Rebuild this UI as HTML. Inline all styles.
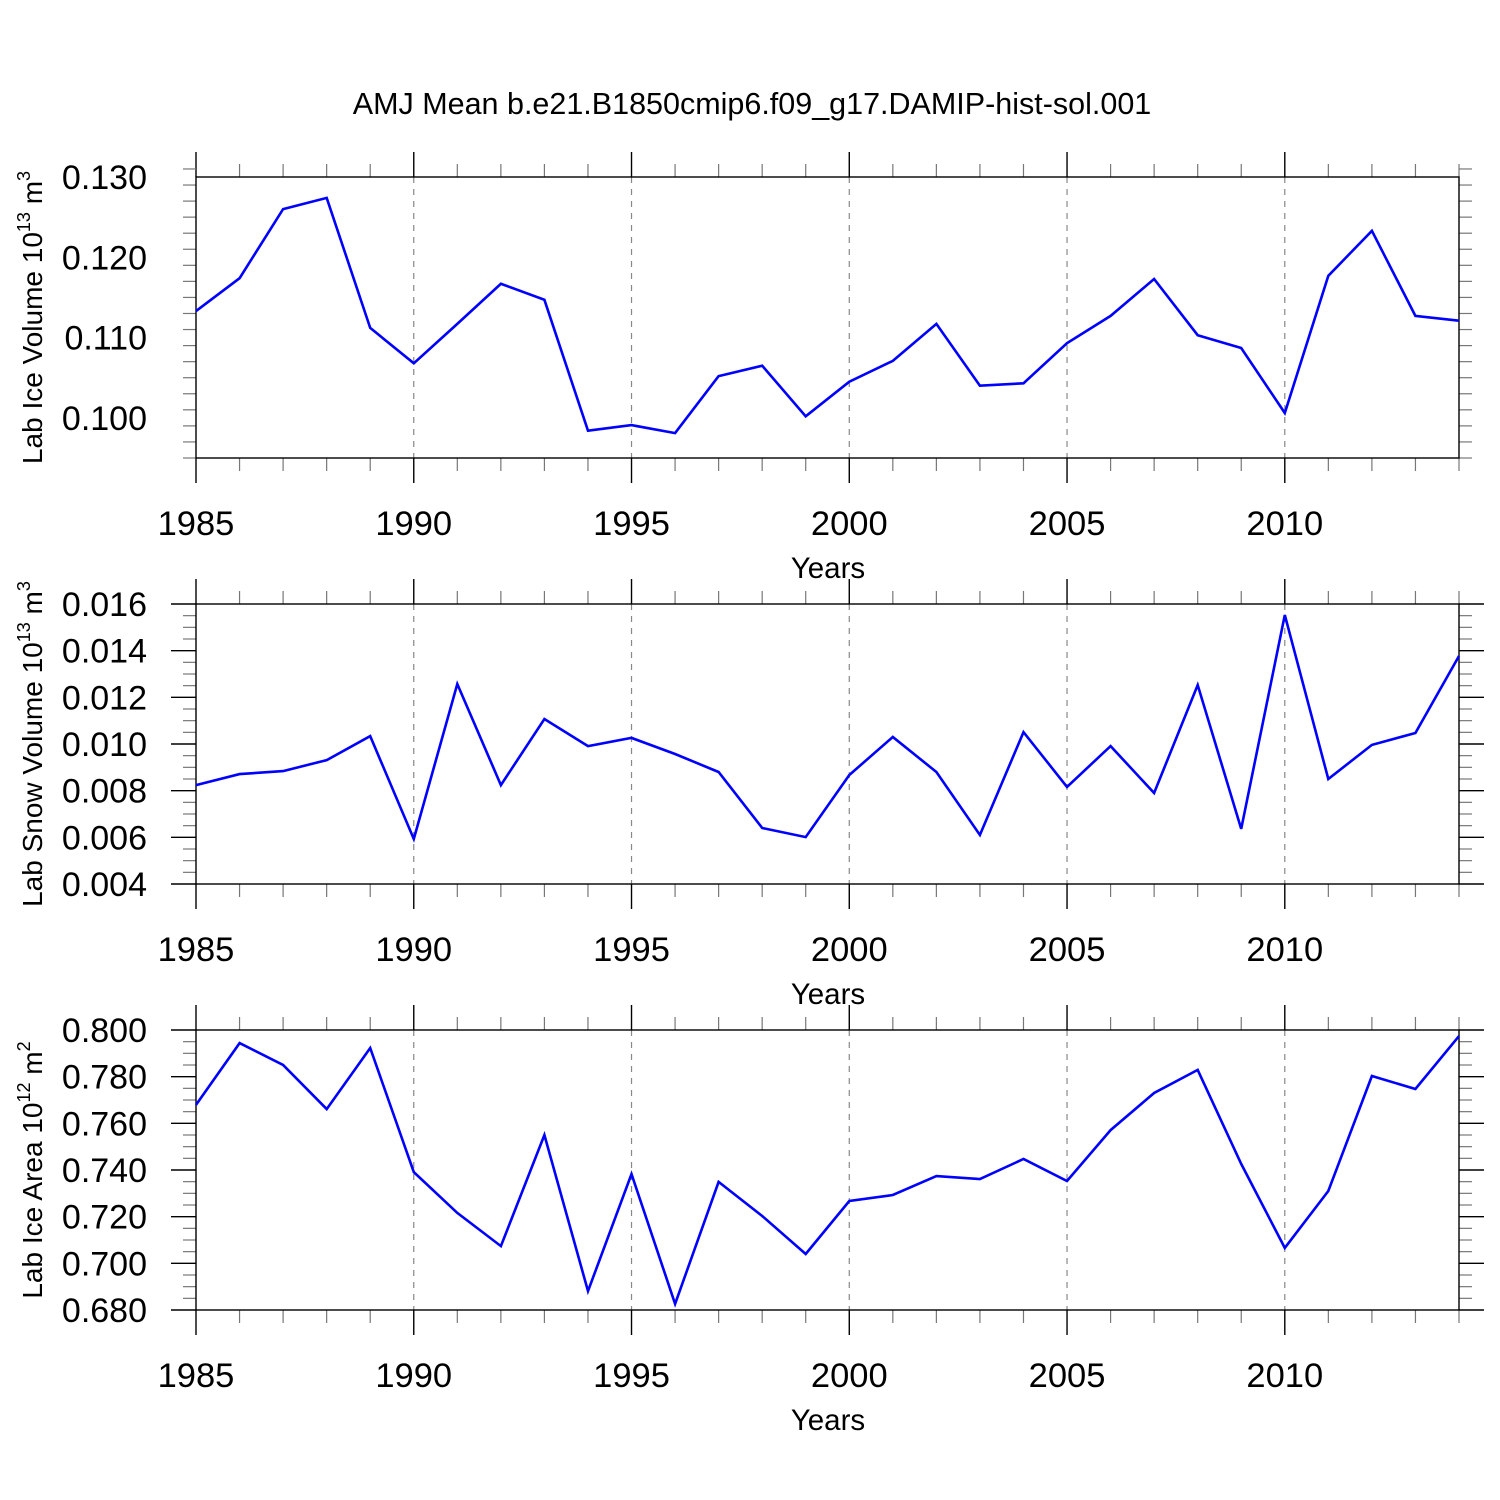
<!DOCTYPE html>
<html><head><meta charset="utf-8">
<style>html,body{margin:0;padding:0;background:#fff}svg{display:block}text{font-family:"Liberation Sans",sans-serif;fill:#000}</style>
</head><body>
<svg id="chart" width="1500" height="1500" viewBox="0 0 1500 1500" xmlns="http://www.w3.org/2000/svg">
<text x="752" y="114" font-size="30.5" text-anchor="middle">AMJ Mean b.e21.B1850cmip6.f09_g17.DAMIP-hist-sol.001</text>
</svg>
<script>
const years = [1985,1986,1987,1988,1989,1990,1991,1992,1993,1994,1995,1996,1997,1998,1999,2000,2001,2002,2003,2004,2005,2006,2007,2008,2009,2010,2011,2012,2013,2014];
const iceVolume = [0.1133,0.1174,0.1260,0.1274,0.1112,0.1068,0.1117,0.1167,0.1147,0.0984,0.0991,0.0981,0.1052,0.1065,0.1002,0.1045,0.1071,0.1117,0.1040,0.1043,0.1093,0.1127,0.1173,0.1103,0.1087,0.1006,0.1177,0.1233,0.1127,0.1121];
const snowVolume = [0.00824,0.00871,0.00884,0.00931,0.01034,0.00593,0.01257,0.00824,0.01107,0.00991,0.01026,0.00957,0.00880,0.00640,0.00601,0.00867,0.01030,0.00880,0.00610,0.01051,0.00816,0.00991,0.00790,0.01253,0.00636,0.01553,0.00850,0.00996,0.01047,0.01377];
const iceArea = [0.7679,0.7944,0.7850,0.7661,0.7923,0.7391,0.7216,0.7074,0.7550,0.6881,0.7383,0.6826,0.7349,0.7203,0.7040,0.7267,0.7293,0.7374,0.7361,0.7447,0.7353,0.7571,0.7730,0.7829,0.7426,0.7066,0.7310,0.7803,0.7747,0.7974];
const xTickYears = [1985,1990,1995,2000,2005,2010];
const ticks1 = ["0.100","0.110","0.120","0.130"];
const ticks2 = ["0.004","0.006","0.008","0.010","0.012","0.014","0.016"];
const ticks3 = ["0.680","0.700","0.720","0.740","0.760","0.780","0.800"];

const NS="http://www.w3.org/2000/svg";
const svg=document.getElementById('chart');
function mk(tag,attrs,parent){const e=document.createElementNS(NS,tag);for(const k in attrs)e.setAttribute(k,attrs[k]);(parent||svg).appendChild(e);return e;}
const X0=196,X1=1459,XMIN=1985,XMAX=2014;
const xs=v=>X0+(v-XMIN)/(XMAX-XMIN)*(X1-X0);

function panel(name,top,bot,ymin,ymax,minorStep,ticks,data,labelMain,sup,unitSup){
  const g=mk('g',{});
  
  
  const ys=v=>bot-(v-ymin)/(ymax-ymin)*(bot-top);
  xTickYears.forEach(yr=>{if(yr===XMIN)return;
    const l=mk('line',{x1:xs(yr),x2:xs(yr),y1:top,y2:bot,stroke:'#888','stroke-width':1.2,'stroke-dasharray':'6,6'},g);
    
    });
  years.forEach(yr=>{const major=xTickYears.includes(yr);const L=major?25:13;const x=xs(yr);
    mk('line',{x1:x,x2:x,y1:top,y2:top-L,stroke:major?'#000':'#777','stroke-width':major?1.4:1.2},g);
    mk('line',{x1:x,x2:x,y1:bot,y2:bot+L,stroke:major?'#000':'#777','stroke-width':major?1.4:1.2},g);});
  const n=Math.round((ymax-ymin)/minorStep);
  const majVals=ticks.map(Number);
  for(let i=0;i<=n;i++){const v=ymin+i*minorStep;const y=ys(v);
    const major=majVals.some(m=>Math.abs(m-v)<minorStep*0.01);const L=major?25:13;
    mk('line',{x1:X0,x2:X0-L,y1:y,y2:y,stroke:major?'#000':'#777','stroke-width':major?1.4:1.2},g);
    mk('line',{x1:X1,x2:X1+L,y1:y,y2:y,stroke:major?'#000':'#777','stroke-width':major?1.4:1.2},g);}
  ticks.forEach(t=>{const tx=mk('text',{x:147,y:ys(Number(t))+12,'font-size':34,'text-anchor':'end'},g);tx.textContent=t;
    
    });
  xTickYears.forEach(yr=>{const tx=mk('text',{x:xs(yr),y:bot+77,'font-size':34.5,'text-anchor':'middle'},g);tx.textContent=yr;
    
    });
  const xt=mk('text',{x:828,y:bot+120,'font-size':29.5,'text-anchor':'middle'},g);xt.textContent='Years';
  
  
  const yt=mk('text',{transform:`translate(42,${(top+bot)/2}) rotate(-90)`,'font-size':28,'text-anchor':'middle'},g);
  
  
  yt.appendChild(document.createTextNode(labelMain+' 10'));
  const s1=mk('tspan',{'font-size':18,dy:-12},yt);s1.textContent=sup;
  const s2=mk('tspan',{dy:12},yt);s2.textContent=' m';
  const s3=mk('tspan',{'font-size':18,dy:-12},yt);s3.textContent=unitSup;
  const fr=mk('rect',{x:X0,y:top,width:X1-X0,height:bot-top,fill:'none',stroke:'#000','stroke-width':1.4},g);
  
  
  const pts=years.map((yr,i)=>xs(yr).toFixed(1)+','+ys(data[i]).toFixed(1)).join(' ');
  const pl=mk('polyline',{points:pts,fill:'none',stroke:'#0000ff','stroke-width':2.6,'stroke-linejoin':'miter'},g);
  
  
}
panel('ice-volume',177,458,0.095,0.130,0.002,ticks1,iceVolume,'Lab Ice Volume','13','3');
panel('snow-volume',604,884,0.004,0.016,0.0005,ticks2,snowVolume,'Lab Snow Volume','13','3');
panel('ice-area',1030,1310,0.680,0.800,0.005,ticks3,iceArea,'Lab Ice Area','12','2');
</script>
</body></html>
